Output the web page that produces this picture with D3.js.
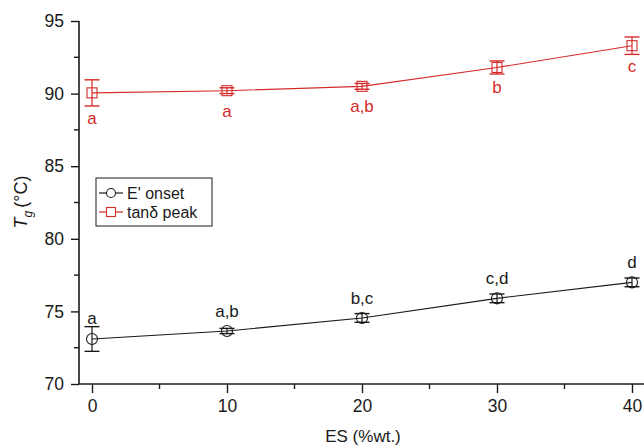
<!DOCTYPE html>
<html>
<head>
<meta charset="utf-8">
<script src="https://cdn.jsdelivr.net/npm/d3@7"></script>
<style>
  html, body { margin: 0; padding: 0; background: #fff; }
  svg { display: block; font-family: "Liberation Sans", Arial, sans-serif; }
</style>
</head>
<body>
<svg id="chart" width="644" height="447"></svg>
<script>
// ES loading (%wt.)
const esLoad = [0, 10, 20, 30, 40];

// E' onset Tg (°C), standard deviation and significance letters
const onsetMean = [73.1, 73.65, 74.55, 75.9, 77.0];
const onsetErr  = [0.85, 0.18, 0.3, 0.3, 0.3];
const onsetSig  = ["a", "a,b", "b,c", "c,d", "d"];

// tanδ peak Tg (°C), standard deviation and significance letters
const tanMean = [90.05, 90.2, 90.5, 91.8, 93.3];
const tanErr  = [0.9, 0.2, 0.2, 0.45, 0.6];
const tanSig  = ["a", "a", "a,b", "b", "c"];

const xTicks = [0, 10, 20, 30, 40];
const yTicks = [70, 75, 80, 85, 90, 95];

const RED = "#d42b2b";
const BLACK = "#1a1a1a";
const FONT = "Liberation Sans, Arial, sans-serif";

const svg = d3.select("#chart");
const plotLeft = 79, plotRight = 644, plotTop = 21, plotBottom = 384;

const x = d3.scaleLinear().domain([0, 40]).range([92, 632]);
const y = d3.scaleLinear().domain([70, 95]).range([plotBottom, plotTop]);

// Y axis
const yAxis = d3.axisLeft(y).tickValues(yTicks).tickSize(8).tickPadding(7).tickFormat(d3.format("d"));
const gy = svg.append("g").attr("transform", `translate(${plotLeft},0)`).call(yAxis);
gy.select(".domain").attr("stroke", BLACK).attr("stroke-width", 1.6).attr("d", `M0,${plotBottom}V${plotTop}`);
gy.selectAll(".tick line").attr("stroke", BLACK).attr("stroke-width", 1.4);
gy.selectAll(".tick text").attr("font-size", 17.5).attr("fill", BLACK).attr("font-family", FONT);
// minor y ticks
svg.append("g").selectAll("line")
  .data(d3.range(72.5, 95, 5))
  .join("line")
  .attr("x1", plotLeft - 5).attr("x2", plotLeft)
  .attr("y1", d => y(d)).attr("y2", d => y(d))
  .attr("stroke", BLACK).attr("stroke-width", 1.4);

// X axis
const xAxis = d3.axisBottom(x).tickValues(xTicks).tickSize(9).tickPadding(7).tickFormat(d3.format("d"));
const gx = svg.append("g").attr("transform", `translate(0,${plotBottom})`).call(xAxis);
gx.select(".domain").attr("stroke", BLACK).attr("stroke-width", 1.6).attr("d", `M${plotLeft},0H${plotRight}`);
gx.selectAll(".tick line").attr("stroke", BLACK).attr("stroke-width", 1.4);
gx.selectAll(".tick text").attr("font-size", 17.5).attr("fill", BLACK).attr("font-family", FONT);
// minor x ticks
svg.append("g").selectAll("line")
  .data([5, 15, 25, 35])
  .join("line")
  .attr("x1", d => x(d)).attr("x2", d => x(d))
  .attr("y1", plotBottom).attr("y2", plotBottom + 5)
  .attr("stroke", BLACK).attr("stroke-width", 1.4);

// Axis titles
svg.append("text")
  .attr("x", 363).attr("y", 442)
  .attr("text-anchor", "middle").attr("font-size", 17).attr("fill", BLACK)
  .text("ES (%wt.)");

const yt = svg.append("text")
  .attr("transform", "translate(27,202) rotate(-90)")
  .attr("text-anchor", "middle").attr("font-size", 18).attr("fill", BLACK);
yt.append("tspan").attr("font-style", "italic").text("T");
yt.append("tspan").attr("font-style", "italic").attr("font-size", 12).attr("dy", 5).text("g");
yt.append("tspan").attr("dy", -5).attr("dx", 3).text("(°C)");

// Series drawing
function drawSeries(mean, err, sig, color, marker, labelAbove) {
  const g = svg.append("g");
  const pts = esLoad.map((e, i) => ({ x: e, m: mean[i], s: err[i], l: sig[i] }));
  const line = d3.line().x(d => x(d.x)).y(d => y(d.m));
  g.append("path").datum(pts).attr("d", line)
    .attr("fill", "none").attr("stroke", color).attr("stroke-width", 1.1);

  const eb = g.selectAll(".eb").data(pts).join("g");
  eb.append("line")
    .attr("x1", d => x(d.x)).attr("x2", d => x(d.x))
    .attr("y1", d => y(d.m + d.s)).attr("y2", d => y(d.m - d.s))
    .attr("stroke", color).attr("stroke-width", 1.2);
  [1, -1].forEach(sgn => {
    eb.append("line")
      .attr("x1", d => x(d.x) - 7.5).attr("x2", d => x(d.x) + 7.5)
      .attr("y1", d => y(d.m + sgn * d.s)).attr("y2", d => y(d.m + sgn * d.s))
      .attr("stroke", color).attr("stroke-width", 1.4);
  });

  if (marker === "circle") {
    g.selectAll(".mk").data(pts).join("circle")
      .attr("cx", d => x(d.x)).attr("cy", d => y(d.m)).attr("r", 5.5)
      .attr("fill", "none").attr("stroke", color).attr("stroke-width", 1.1);
  } else {
    g.selectAll(".mk").data(pts).join("rect")
      .attr("x", d => x(d.x) - 5).attr("y", d => y(d.m) - 5)
      .attr("width", 10).attr("height", 10)
      .attr("fill", "none").attr("stroke", color).attr("stroke-width", 1.1);
  }

  // significance letters: clear of the error bar and of the marker
  g.selectAll(".lb").data(pts).join("text")
    .attr("x", d => x(d.x))
    .attr("y", d => labelAbove
      ? Math.min(y(d.m + d.s) - 3, y(d.m) - 14)
      : Math.max(y(d.m - d.s) + 18, y(d.m) + 26))
    .attr("text-anchor", "middle").attr("font-size", 17).attr("fill", color)
    .text(d => d.l);
}

drawSeries(tanMean, tanErr, tanSig, RED, "square", false);
drawSeries(onsetMean, onsetErr, onsetSig, BLACK, "circle", true);

// Legend
const lg = svg.append("g");
lg.append("rect").attr("x", 96).attr("y", 178).attr("width", 116).attr("height", 48)
  .attr("fill", "#fff").attr("stroke", BLACK).attr("stroke-width", 1);
const legendItems = [
  { name: "E' onset", color: BLACK, marker: "circle", yy: 193 },
  { name: "tanδ peak", color: RED, marker: "square", yy: 212 }
];
legendItems.forEach(it => {
  lg.append("line").attr("x1", 99).attr("x2", 123).attr("y1", it.yy).attr("y2", it.yy)
    .attr("stroke", it.color).attr("stroke-width", 1.2);
  if (it.marker === "circle") {
    lg.append("circle").attr("cx", 111).attr("cy", it.yy).attr("r", 4.5)
      .attr("fill", "#fff").attr("stroke", it.color).attr("stroke-width", 1.1);
  } else {
    lg.append("rect").attr("x", 106.5).attr("y", it.yy - 4.5).attr("width", 9).attr("height", 9)
      .attr("fill", "#fff").attr("stroke", it.color).attr("stroke-width", 1.1);
  }
  lg.append("text").attr("x", 127).attr("y", it.yy + 5.5).attr("font-size", 16).attr("fill", BLACK)
    .text(it.name);
});
</script>
</body>
</html>
